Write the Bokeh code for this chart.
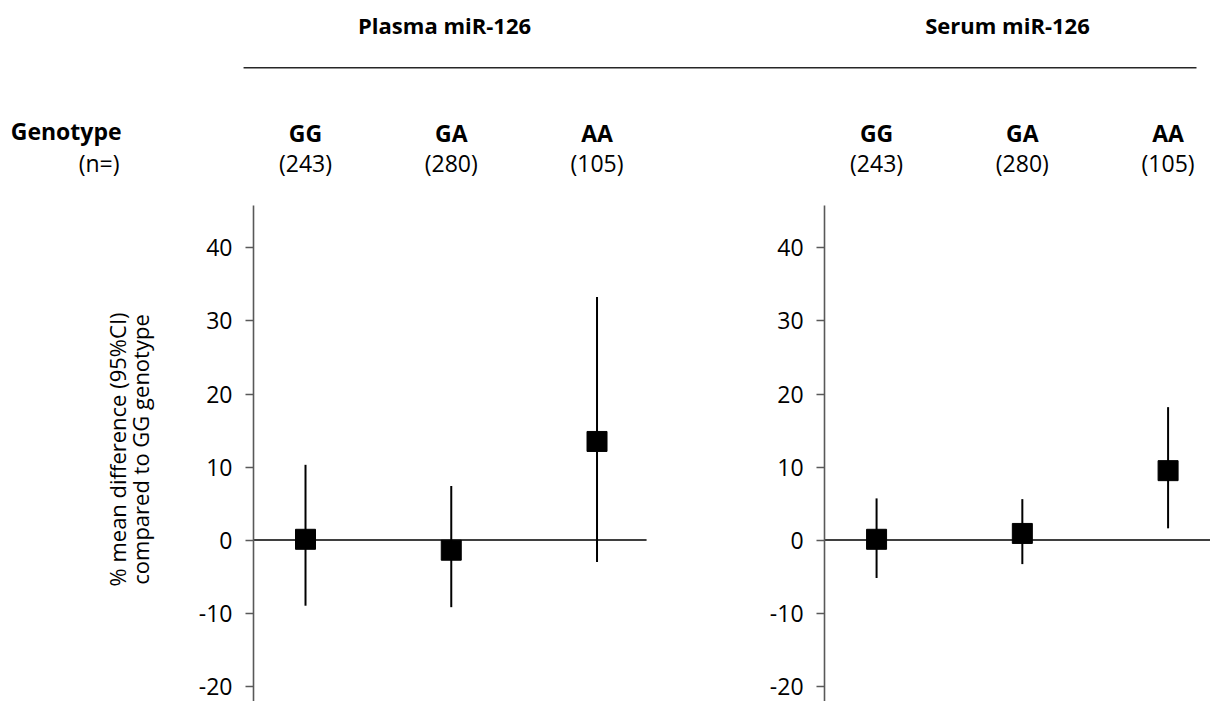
import math
from bokeh.plotting import figure
from bokeh.models import ColumnDataSource, FixedTicker, Label, LinearAxis
from bokeh.core.properties import value
from bokeh.embed import file_html
from bokeh.resources import INLINE

# ---- data ----
genotypes = ["GG", "GA", "AA"]
n_counts = ["(243)", "(280)", "(105)"]
panel_titles = ["Plasma miR-126", "Serum miR-126"]
plasma_est = [0.1, -1.4, 13.5]
plasma_lo = [-9.0, -9.2, -3.0]
plasma_hi = [10.3, 7.4, 33.3]
serum_est = [0.1, 0.9, 9.5]
serum_lo = [-5.2, -3.3, 1.6]
serum_hi = [5.7, 5.6, 18.2]
y_ticks = [-20, -10, 0, 10, 20, 30, 40]
y_title = "% mean difference (95%CI)\ncompared to GG genotype"

# ---- layout constants ----
FONT = "Open Sans"
W, H = 1210, 701
Y_RANGE = (-22.12, 73.9)
X_RANGE = (-2.0926, 6.209)
OFFSETS = [0.0, 3.918]          # x offset of each panel's first category
AXIS_PAD = 0.357                # axis sits this far left of first category
LINE_PAD = 0.34                 # zero line runs this far right of last category

p = figure(width=W, height=H, output_backend="svg", toolbar_location=None,
           x_axis_type=None, x_range=X_RANGE, y_range=Y_RANGE,
           min_border_left=0, min_border_right=0, min_border_top=0,
           min_border_bottom=0, outline_line_color=None,
           background_fill_color="white", border_fill_color="white")
p.grid.visible = False


def style_axis(ax, loc):
    ax.fixed_location = loc
    ax.ticker = FixedTicker(ticks=y_ticks)
    ax.major_label_overrides = {t: str(t) for t in y_ticks}
    ax.bounds = (Y_RANGE[0], 45.8)
    ax.axis_line_color = "#595959"
    ax.axis_line_width = 1.6
    ax.major_tick_line_color = "#595959"
    ax.major_tick_line_width = 1.6
    ax.major_tick_out = 8
    ax.major_tick_in = 0
    ax.minor_tick_out = 0
    ax.minor_tick_in = 0
    ax.major_label_text_font = FONT
    ax.major_label_text_font_size = "23px"
    ax.major_label_text_color = "black"
    ax.major_label_standoff = 13


style_axis(p.yaxis[0], OFFSETS[0] - AXIS_PAD)
ax2 = LinearAxis()
style_axis(ax2, OFFSETS[1] - AXIS_PAD)
p.add_layout(ax2, "left")

n = len(genotypes)
for off, est, lo, hi in [(OFFSETS[0], plasma_est, plasma_lo, plasma_hi),
                         (OFFSETS[1], serum_est, serum_lo, serum_hi)]:
    xs = [off + i for i in range(n)]
    src = ColumnDataSource(dict(x=xs, est=est, lo=lo, hi=hi,
                                g=genotypes, n=n_counts))
    # zero reference line
    p.segment(x0=[off - AXIS_PAD], y0=[0], x1=[off + n - 1 + LINE_PAD],
              y1=[0], line_color="#3f3f3f", line_width=2)
    # CI bars
    p.segment(x0="x", y0="lo", x1="x", y1="hi", source=src,
              line_color="black", line_width=2)
    # point estimates
    p.scatter(x="x", y="est", source=src, marker="square", size=20,
              fill_color="black", line_color="black")
    # column headers
    p.text(x="x", y=55.8, text="g", source=src, text_font=value(FONT),
           text_font_size=value("23px"), text_font_style="bold",
           text_align="center", text_baseline="middle", text_color="black")
    p.text(x="x", y=51.7, text="n", source=src, text_font=value(FONT),
           text_font_size=value("23px"), text_align="center",
           text_baseline="middle", text_color="black")

# panel titles
title_x = [0.954, 4.816]
p.text(x=title_x, y=[70.6, 70.6], text=panel_titles, text_font=value(FONT),
       text_font_size=value("22px"), text_font_style="bold",
       text_align="center", text_baseline="middle", text_color="black")
# separator line under the titles
p.segment(x0=[OFFSETS[0] - 0.425], y0=[64.7], x1=[OFFSETS[1] + 2.195],
          y1=[64.7], line_color="#262626", line_width=1.5)

# row labels
p.add_layout(Label(x=-1.262, y=55.96, text="Genotype", text_font=FONT,
                   text_font_size="23px", text_font_style="bold",
                   text_align="right", text_baseline="middle",
                   text_color="black"))
p.add_layout(Label(x=-1.276, y=51.6, text="(n=)", text_font=FONT,
                   text_font_size="23px", text_align="right",
                   text_baseline="middle", text_color="black"))
# y axis title
p.add_layout(Label(x=-1.212, y=12.4, text=y_title, angle=math.pi / 2,
                   text_font=FONT, text_font_size="22px",
                   text_align="center", text_baseline="middle",
                   text_line_height=0.76, text_color="black"))

open("out.html", "w").write(file_html(p, INLINE))
